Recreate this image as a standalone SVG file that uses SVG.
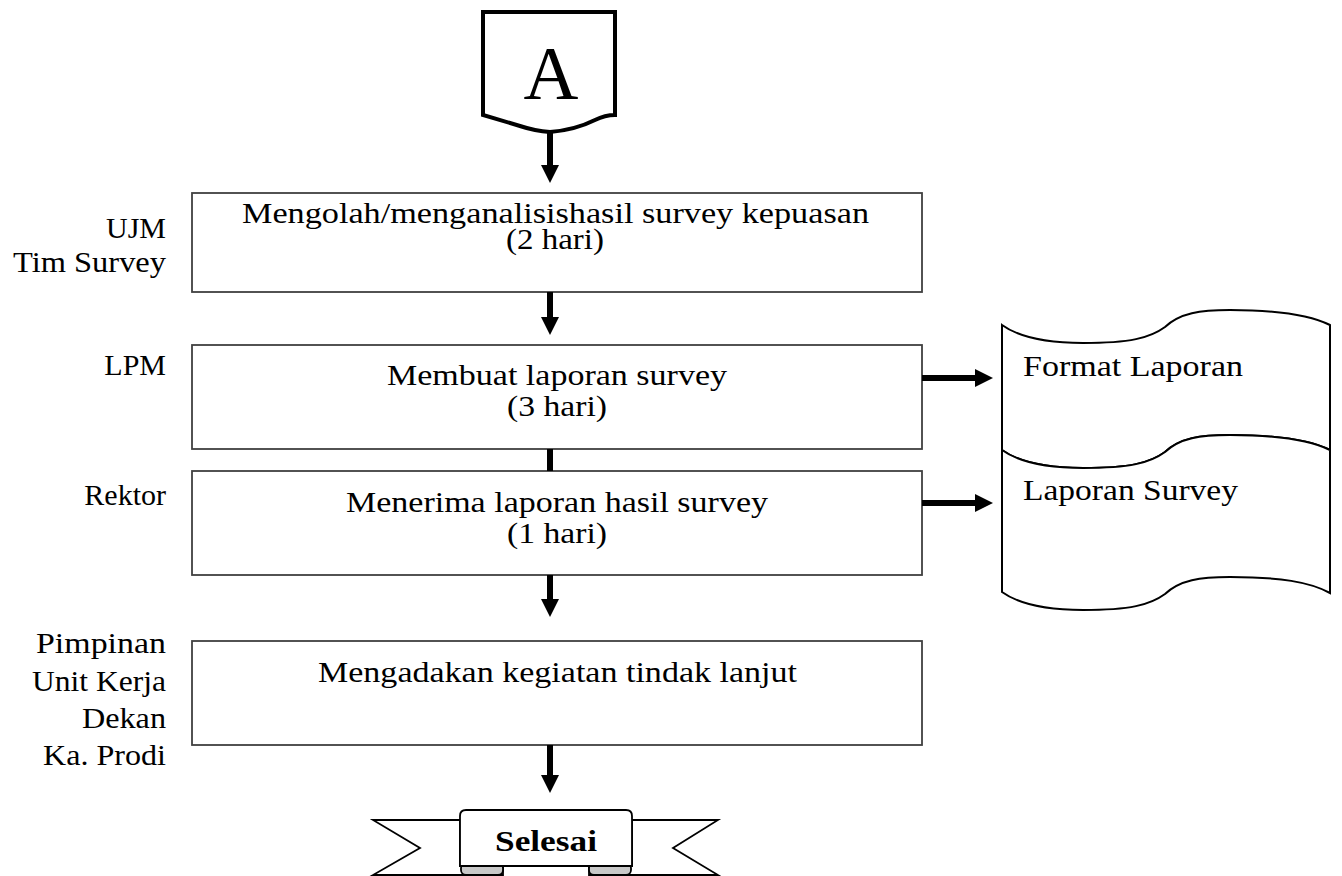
<svg xmlns="http://www.w3.org/2000/svg" width="1342" height="876" viewBox="0 0 1342 876">
<style>
.t{font-family:"Liberation Serif","DejaVu Serif",serif;font-size:30px;fill:#000}
.lbl{font-family:"Liberation Serif","DejaVu Serif",serif;font-size:30px;fill:#000;text-anchor:end}
.box{fill:#fff;stroke:#404040;stroke-width:1.8}
.doc{fill:#fff;stroke:#000;stroke-width:2}
.arr{stroke:#000;stroke-width:6;fill:none}
.rib{fill:#fff;stroke:#000;stroke-width:1.8;stroke-linejoin:miter}
.fold{fill:#c8c8c8;stroke:#000;stroke-width:1.8}
</style>
<defs>
<marker id="ah" viewBox="0 0 18 18" markerWidth="18" markerHeight="18" refX="1" refY="9" orient="auto" markerUnits="userSpaceOnUse">
<path d="M0,0 L18,9 L0,18 Z" fill="#000"/>
</marker>
</defs>
<rect width="1342" height="876" fill="#fff"/>

<g id="connector-A">
<path d="M483,115 V12 H615 V115 Q605,115 595,120 Q575,130 550,132 Q535,131 520,126 Z" fill="#fff" stroke="#000" stroke-width="4" stroke-linejoin="miter"/>
<text x="551" y="99" text-anchor="middle" style="font-family:'Liberation Serif','DejaVu Serif',serif;font-size:76px">A</text>
</g>

<g id="lane-labels">
<text class="lbl" x="166" y="238">UJM</text>
<text class="lbl" x="166" y="272" textLength="153" lengthAdjust="spacingAndGlyphs">Tim Survey</text>
<text class="lbl" x="166" y="375">LPM</text>
<text class="lbl" x="166" y="505">Rektor</text>
<text class="lbl" x="166" y="653" textLength="130" lengthAdjust="spacingAndGlyphs">Pimpinan</text>
<text class="lbl" x="166" y="691" textLength="134" lengthAdjust="spacingAndGlyphs">Unit Kerja</text>
<text class="lbl" x="166" y="728" textLength="84" lengthAdjust="spacingAndGlyphs">Dekan</text>
<text class="lbl" x="166" y="765" textLength="123" lengthAdjust="spacingAndGlyphs">Ka. Prodi</text>
</g>

<g id="step1">
<rect class="box" x="192" y="193" width="730" height="99"/>
<text class="t" x="242" y="223" textLength="627" lengthAdjust="spacingAndGlyphs">Mengolah/menganalisishasil survey kepuasan</text>
<text class="t" x="506" y="249" textLength="98" lengthAdjust="spacingAndGlyphs">(2 hari)</text>
</g>

<g id="step2">
<rect class="box" x="192" y="345" width="730" height="104"/>
<text class="t" x="387" y="385" textLength="340" lengthAdjust="spacingAndGlyphs">Membuat laporan survey</text>
<text class="t" x="507" y="416" textLength="100" lengthAdjust="spacingAndGlyphs">(3 hari)</text>
</g>

<g id="step3">
<rect class="box" x="192" y="471" width="730" height="104"/>
<text class="t" x="346" y="512" textLength="422" lengthAdjust="spacingAndGlyphs">Menerima laporan hasil survey</text>
<text class="t" x="507" y="543" textLength="100" lengthAdjust="spacingAndGlyphs">(1 hari)</text>
</g>

<g id="step4">
<rect class="box" x="192" y="641" width="730" height="104"/>
<text class="t" x="318" y="682" textLength="479" lengthAdjust="spacingAndGlyphs">Mengadakan kegiatan tindak lanjut</text>
</g>

<g id="doc-format-laporan">
<path class="doc" d="M1002,325 C1020,338 1050,343 1083,343 C1130,343 1150,338 1165,327 C1180,313 1200,310 1230,310 C1280,310 1310,315 1330,325 L1330,450 C1310,440 1280,435 1230,435 C1200,435 1180,438 1165,452 C1150,463 1130,468 1083,468 C1050,468 1020,463 1002,450 Z"/>
<text class="t" x="1023" y="376" textLength="220" lengthAdjust="spacingAndGlyphs">Format Laporan</text>
</g>

<g id="doc-laporan-survey">
<path class="doc" d="M1002,450 C1020,463 1050,468 1083,468 C1130,468 1150,463 1165,452 C1180,438 1200,435 1230,435 C1280,435 1310,440 1330,450 L1330,593 C1310,582 1280,577 1230,577 C1200,577 1180,580 1165,594 C1150,605 1130,610 1083,610 C1050,610 1020,605 1002,592 Z"/>
<text class="t" x="1023" y="500" textLength="215" lengthAdjust="spacingAndGlyphs">Laporan Survey</text>
</g>

<g id="terminator-selesai">
<path class="rib" d="M460,820 L373,820 L420,848 L373,875 L503,875 L503,866 L460,866 Z"/>
<path class="rib" d="M632,820 L718,820 L673,848 L718,875 L589,875 L589,866 L632,866 Z"/>
<rect class="fold" x="461" y="863" width="42" height="12" rx="5"/>
<rect class="fold" x="589" y="863" width="42" height="12" rx="5"/>
<path class="rib" d="M460,866 V816 Q460,810 466,810 H626 Q632,810 632,816 V866 Z"/>
<text x="546" y="851" text-anchor="middle" style="font-family:'Liberation Serif','DejaVu Serif',serif;font-size:30px;font-weight:bold" textLength="102" lengthAdjust="spacingAndGlyphs">Selesai</text>
</g>

<g id="connectors">
<line class="arr" x1="550" y1="132" x2="550" y2="166" marker-end="url(#ah)"/>
<line class="arr" x1="550" y1="292" x2="550" y2="318" marker-end="url(#ah)"/>
<line class="arr" x1="550" y1="449" x2="550" y2="471"/>
<line class="arr" x1="550" y1="575" x2="550" y2="600" marker-end="url(#ah)"/>
<line class="arr" x1="550" y1="745" x2="550" y2="776" marker-end="url(#ah)"/>
<line class="arr" x1="922" y1="378" x2="976" y2="378" marker-end="url(#ah)"/>
<line class="arr" x1="922" y1="503" x2="976" y2="503" marker-end="url(#ah)"/>
</g>
</svg>
